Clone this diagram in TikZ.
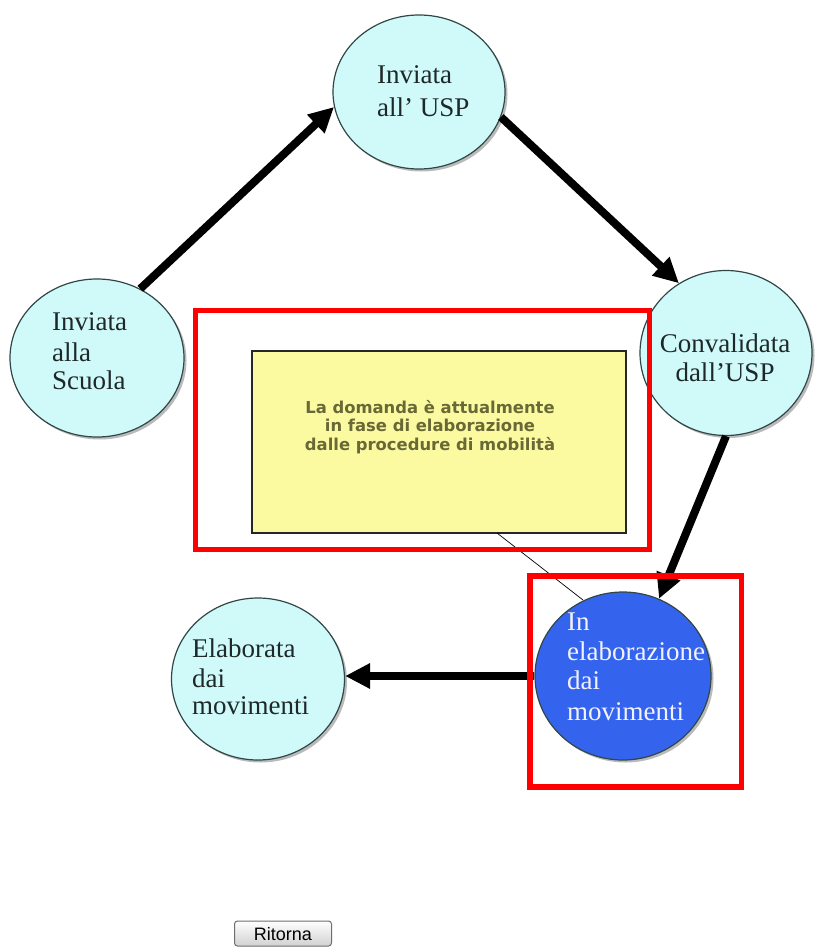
\documentclass[tikz,border=0pt]{standalone}
\usepackage{fontspec}
\setmainfont{Liberation Serif}
\newfontfamily\notefont{DejaVu Sans}
\newfontfamily\btnfont{Liberation Sans}
\usetikzlibrary{arrows.meta,shapes.geometric,shadows}
\definecolor{cyanfill}{RGB}{208,250,250}
\definecolor{circborder}{RGB}{50,70,70}
\definecolor{bluefill}{RGB}{52,100,238}
\definecolor{notefill}{RGB}{252,250,160}
\definecolor{notetext}{RGB}{105,105,55}
\definecolor{framered}{RGB}{255,0,0}
\definecolor{circtext}{RGB}{30,40,40}
\definecolor{btnborder}{RGB}{110,110,110}
\tikzset{
  state/.style={ellipse, draw=circborder, line width=1.2pt, fill=cyanfill, inner sep=0pt,
    drop shadow={shadow xshift=2.5pt, shadow yshift=-2.5pt, fill=black!45, opacity=0.6}},
  activestate/.style={state, fill=bluefill},
  ctext/.style={inner sep=0pt, anchor=base west, text=circtext, font=\fontsize{27}{29}\selectfont},
  ctextc/.style={ctext, anchor=base},
  wtext/.style={ctext, text=blue!5},
  flow/.style={line width=8pt, draw=black, -{Triangle[length=25pt,width=24pt]}},
  notebox/.style={rectangle, draw=black!85, line width=1.2pt, fill=notefill, inner sep=0pt},
  ntext/.style={inner sep=0pt, anchor=base, text=notetext, font=\notefont\bfseries\fontsize{16.4}{18.5}\selectfont},
  redframe/.style={draw=framered, line width=5.5pt},
  button/.style={rectangle, rounded corners=3pt, draw=btnborder, line width=1pt,
    top color=white, bottom color=black!18, inner sep=0pt},
}
\begin{document}
\begin{tikzpicture}[x=1pt,y=-1pt]
\useasboundingbox[fill=white] (0,0) rectangle (814,947);

% states
\node[state, minimum width=174pt, minimum height=158pt] (scuola) at (97,358) {};
\node[state, minimum width=172pt, minimum height=154pt] (usp) at (419,92) {};
\node[state, minimum width=172pt, minimum height=165pt] (conv) at (726,353) {};
\node[state, minimum width=173pt, minimum height=162pt] (elab) at (258,679) {};
\node[activestate, minimum width=176pt, minimum height=168pt] (inel) at (623,676) {};

% state texts
\node[ctext] (sc1) at (52,330) {Inviata};
\node[ctext] (sc2) at (52,361) {alla};
\node[ctext] (sc3) at (52,389) {Scuola};

\node[ctext] (us1) at (377,84) {Inviata};
\node[ctext] (us2) at (377,117) {all’ USP};

\node[ctextc] (cv1) at (725,352) {Convalidata};
\node[ctextc] (cv2) at (725,381) {dall’USP};

\node[ctext] (el1) at (192,657) {Elaborata};
\node[ctext] (el2) at (192,687) {dai};
\node[ctext] (el3) at (192,714) {movimenti};

\node[wtext] (ie1) at (567,630) {In};
\node[wtext] (ie2) at (567,660) {elaborazione};
\node[wtext] (ie3) at (567,689) {dai};
\node[wtext] (ie4) at (567,720) {movimenti};

% flow arrows
\draw[flow] (scuola.58) -- (usp.190);
\draw[flow] (usp.-17) -- (conv.124);
\draw[flow] (conv.-90) -- (inel.65);
\draw[flow] (inel.180) -- (inel.180 -| elab.east);

% note box
\node[notebox, minimum width=374pt, minimum height=182pt] (note) at (439,442) {};
\node[ntext] (nt1) at (430,413) {La domanda è attualmente};
\node[ntext] (nt2) at (430,431.5) {in fase di elaborazione};
\node[ntext] (nt3) at (430,450) {dalle procedure di mobilità};

% callout pointer
\coordinate (pa) at (497,533);
\coordinate (pb) at (583,600);
\draw[black, line width=0.7pt] (pa) -- (pb);

% red frames
\draw[redframe] (195.5,310.5) rectangle (649.5,549.5);
\draw[redframe] (530,576) rectangle (741.5,787);

% button
\node[button, minimum width=97pt, minimum height=25pt] (ritorna) at (283,933.5) {};
\node[inner sep=0pt, anchor=base, font=\btnfont\fontsize{18}{20}\selectfont] (rtext) at (283,940) {Ritorna};
\end{tikzpicture}
\end{document}
